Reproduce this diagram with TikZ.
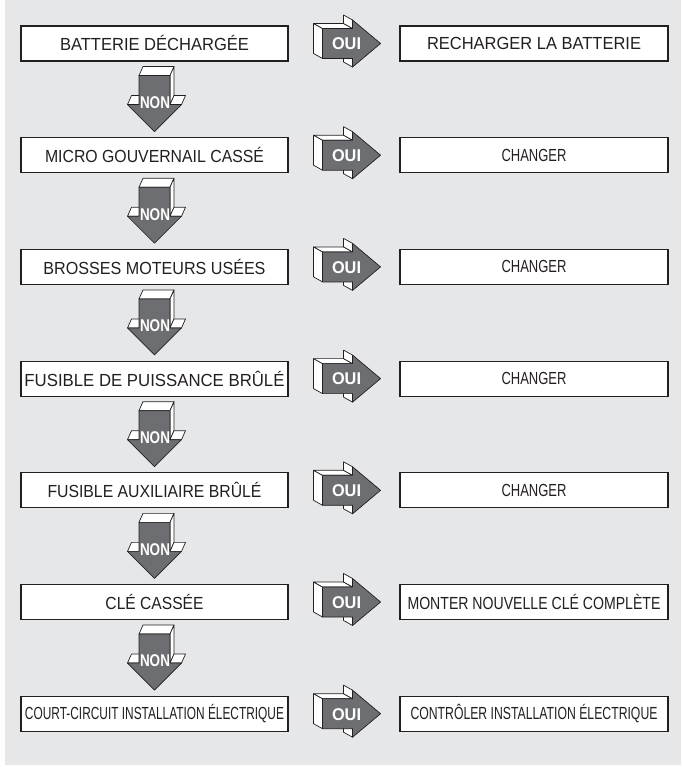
\documentclass[tikz,border=0pt]{standalone}
\usepackage{fontspec}
\setmainfont{Liberation Sans}
\usetikzlibrary{calc}
\definecolor{bg}{HTML}{E6E7E8}
\definecolor{ink}{HTML}{231F20}
\definecolor{arrowgray}{HTML}{6D6E71}
\newcommand{\fitw}[2]{\resizebox{#1pt}{\height}{#2}}
\begin{document}
\begin{tikzpicture}[x=1pt,y=-1pt,
  box/.style={draw=ink, line width=1.1pt, fill=white, minimum width=267pt,
    minimum height=35pt, inner sep=0pt, font=\fontsize{17.5}{19}\selectfont, text=ink},
  face/.style={fill=white, draw=ink, line width=0.7pt, line join=round},
  frontface/.style={fill=arrowgray, draw=ink, line width=0.7pt, line join=round},
  arrowlabel/.style={text=white, inner sep=0pt, font=\bfseries\fontsize{17}{17}\selectfont},
  ouiarrow/.pic={
    \path[face] (0,-15) -- (0,15) -- (-9,10) -- (-9,-20) -- cycle;
    \path[face] (0,-15) -- (30,-15) -- (21,-20) -- (-9,-20) -- cycle;
    \path[face] (30,-15) -- (30,-23.5) -- (21,-28.5) -- (21,-20) -- cycle;
    \path[face] (30,15) -- (30,23.5) -- (21,18.5) -- (21,10) -- cycle;
    \path[frontface] (0,-15) -- (30,-15) -- (30,-23.5) -- (58,0) -- (30,23.5) -- (30,15) -- (0,15) -- cycle;
    \node[arrowlabel] (-lab) at (24,0.5) {\fitw{29}{OUI}};
  },
  nonarrow/.pic={
    \path[face] (-15.5,0) -- (15.5,0) -- (19.5,-9) -- (-11.5,-9) -- cycle;
    \path[face] (15.5,0) -- (19.5,-9) -- (19.5,20) -- (15.5,29) -- cycle;
    \path[face] (15.5,29) -- (27,29) -- (31,20) -- (19.5,20) -- cycle;
    \path[face] (-27,29) -- (-15.5,29) -- (-11.5,20) -- (-23,20) -- cycle;
    \path[frontface] (-15.5,0) -- (15.5,0) -- (15.5,29) -- (27,29) -- (0,56) -- (-27,29) -- (-15.5,29) -- cycle;
    \node[arrowlabel] (-lab) at (0.5,27) {\fitw{30}{NON}};
  }]
\useasboundingbox (0,0) rectangle (681,767);
\fill[bg] (5,0) rectangle (681,765);
\foreach \i/\lt/\lw/\rt/\rw in {
  1/BATTERIE DÉCHARGÉE/189/RECHARGER LA BATTERIE/214,
  2/MICRO GOUVERNAIL CASSÉ/219/CHANGER/65,
  3/BROSSES MOTEURS USÉES/222/CHANGER/65,
  4/FUSIBLE DE PUISSANCE BRÛLÉ/260/CHANGER/65,
  5/FUSIBLE AUXILIAIRE BRÛLÉ/214/CHANGER/65,
  6/CLÉ CASSÉE/98/MONTER NOUVELLE CLÉ COMPLÈTE/253,
  7/COURT-CIRCUIT INSTALLATION ÉLECTRIQUE/259/CONTRÔLER INSTALLATION ÉLECTRIQUE/247}{
  \pgfmathsetmacro{\yc}{43.5+111.7*(\i-1)}
  \node[box] (L\i) at (154.5,\yc) {\fitw{\lw}{\lt}};
  \node[box, minimum width=268pt] (R\i) at (534,\yc) {\fitw{\rw}{\rt}};
  \path ($(L\i.east)+(34,0)$) pic (oui\i) {ouiarrow};
}
\foreach \i in {1,...,6}{
  \path ($(L\i.south)+(0,14)$) pic (non\i) {nonarrow};
}
\end{tikzpicture}
\end{document}
